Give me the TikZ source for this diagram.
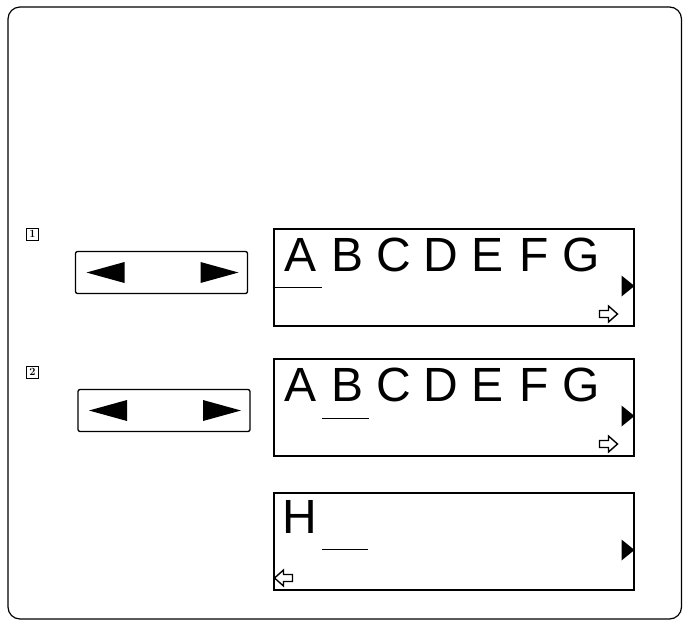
\documentclass[tikz,border=0pt]{standalone}
\usepackage{fontspec}
\newfontfamily\lcdfont{Liberation Sans}
\usetikzlibrary{positioning, calc}

\tikzset{
    hollowarrow/.pic={
        \draw[line width=1.4pt, line join=miter] (0,-3.5) -- (9,-3.5) -- (9,-8) -- (18,0) -- (9,8) -- (9,3.5) -- (0,3.5) -- cycle;
    }
}

\begin{document}
\begin{tikzpicture}[x=1pt, y=-1pt,
    lcd/.style={rectangle, draw, line width=2pt, minimum width=360pt, minimum height=97pt, inner sep=0pt},
    keybox/.style={rectangle, draw, line width=1.3pt, rounded corners=2pt, minimum width=172pt, minimum height=42pt},
    stepnum/.style={rectangle, draw, line width=1pt, minimum size=12pt, inner sep=0pt, font=\bfseries\fontsize{11}{11}\selectfont},
    letter/.style={anchor=base, inner sep=0pt, font=\lcdfont\fontsize{48}{48}\selectfont},
    cursor/.style={line width=1.8pt},
    marker/.style={fill=black}
]
\useasboundingbox (0,0) rectangle (683,622);

% outer frame
\draw[line width=1.2pt, rounded corners=12pt] (8,7) rectangle (681.5,619);

% step numbers and keys
\node[stepnum] (num1) at (32.5,234) {1};
\node[stepnum] (num2) at (32.5,372) {2};
\node[keybox] (key1) at (161.5,272.5) {};
\node[keybox] (key2) at (164,410.5) {};
\foreach \k in {1,2} {
    \fill ($(key\k.center)+(-75,0)$) -- ($(key\k.center)+(-37,-10.5)$) -- ($(key\k.center)+(-37,10.5)$) -- cycle;
    \fill ($(key\k.center)+(77,0)$) -- ($(key\k.center)+(39,-10.5)$) -- ($(key\k.center)+(39,10.5)$) -- cycle;
}

% displays
\node[lcd] (disp1) at (453.5,277) {};
\node[lcd] (disp2) at (453.5,407) {};
\node[lcd] (disp3) at (453.5,541) {};

\foreach \d in {1,2} {
    \foreach \c [count=\i from 0] in {A,B,C,D,E,F,G}
        \node[letter] (d\d\c) at ($(disp\d.north west)+(28+46.7*\i,44)$) {\c};
}
\node[letter] (d3H) at ($(disp3.north west)+(27,42)$) {H};

% cursors
\draw[cursor] ($(disp1.north west)+(0,60)$) -- ($(disp1.north west)+(49,60)$);
\draw[cursor] ($(disp2.north west)+(49,61)$) -- ($(disp2.north west)+(96,61)$);
\draw[cursor] ($(disp3.north west)+(49,58)$) -- ($(disp3.north west)+(95,58)$);

% scroll markers
\foreach \d in {1,2,3}
    \fill[marker] ($(disp\d.east)+(0,9)$) -- ($(disp\d.east)+(-13,-1.5)$) -- ($(disp\d.east)+(-13,19.5)$) -- cycle;

\pic at ($(disp1.south east)+(-35,-12.5)$) {hollowarrow};
\pic at ($(disp2.south east)+(-35,-12.5)$) {hollowarrow};
\pic[xscale=-1] at ($(disp3.south west)+(20,-12.5)$) {hollowarrow};
\end{tikzpicture}
\end{document}
